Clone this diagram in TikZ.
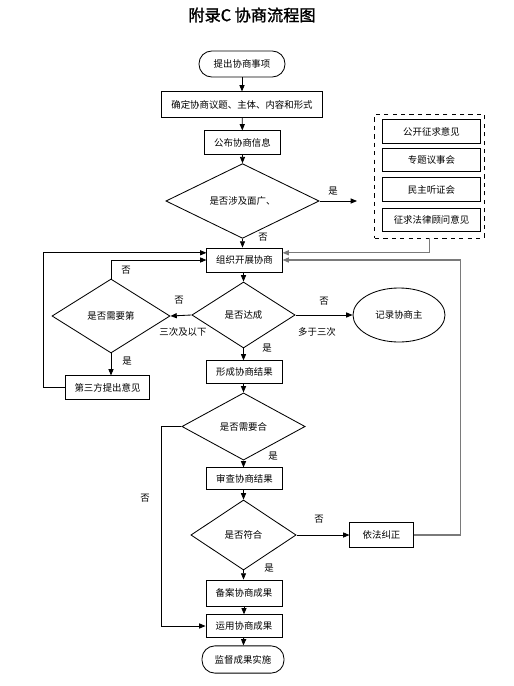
\documentclass[tikz,border=0pt]{standalone}
\usepackage{fontspec}
\newfontfamily\cjk{Noto Sans CJK SC}
\newfontfamily\cjktitulo[FakeBold=1.5]{Noto Sans CJK SC}
\usepackage{tikz}
\usetikzlibrary{positioning,arrows.meta,shapes.geometric}
\definecolor{lineagris}{HTML}{7A7A7A}

\tikzset{
  caja/.style={draw, line width=0.6pt, inner sep=1pt, font=\cjk\fontsize{6.7}{8}\selectfont},
  termino/.style={caja, rounded corners=0.32cm},
  decision/.style={caja, diamond, inner sep=0pt},
  etiqueta/.style={font=\cjk\fontsize{6.7}{8}\selectfont, inner sep=0pt},
  flecha/.style={line width=0.6pt, -{Triangle[length=4.5pt,width=3.6pt]}},
  linea/.style={line width=0.6pt}
}

\begin{document}
\begin{tikzpicture}[x=0.025cm, y=-0.025cm]
  \useasboundingbox (0,0) rectangle (514,686);

  % Titulo
  \node[font=\cjktitulo\fontsize{11.5}{13}\selectfont] (titulo) at (252,15) {附录C\ 协商流程图};

  % Columna principal
  \node[termino, minimum width=2.15cm, minimum height=0.65cm] (inicio) at (242,64) {提出协商事项};
  \node[caja, minimum width=4.03cm, minimum height=0.63cm] (definir) at (242,104.5) {确定协商议题、主体、内容和形式};
  \node[caja, minimum width=1.88cm, minimum height=0.58cm] (publicar) at (242.5,142.5) {公布协商信息};
  \node[decision, minimum width=3.83cm, minimum height=1.7cm] (amplio) at (242.5,201) {是否涉及面广、};
  \node[caja, minimum width=1.88cm, minimum height=0.6cm] (organizar) at (244.5,260) {组织开展协商};
  \node[decision, minimum width=2.58cm, minimum height=1.65cm] (alcanzado) at (243.5,315) {是否达成};
  \node[caja, minimum width=1.88cm, minimum height=0.56cm] (formar) at (244.5,372) {形成协商结果};
  \node[decision, minimum width=3.08cm, minimum height=1.68cm] (legal) at (243.5,426.5) {是否需要合};
  \node[caja, minimum width=1.88cm, minimum height=0.53cm] (revisar) at (244.5,478.5) {审查协商结果};
  \node[decision, minimum width=2.63cm, minimum height=1.75cm] (conforme) at (243.5,535) {是否符合};
  \node[caja, minimum width=1.9cm, minimum height=0.65cm] (archivar) at (244,593) {备案协商成果};
  \node[caja, minimum width=1.9cm, minimum height=0.56cm] (aplicar) at (244,626) {运用协商成果};
  \node[termino, minimum width=2.05cm, minimum height=0.68cm] (supervisar) at (243,659.5) {监督成果实施};

  % Formas de consulta
  \node[draw, dashed, line width=0.6pt, minimum width=2.73cm, minimum height=3.1cm] (opciones) at (429.5,176) {};
  \foreach \n/\t/\y in {op1/公开征求意见/131.5, op2/专题议事会/160, op3/民主听证会/189.5, op4/征求法律顾问意见/220}{
    \node[caja, minimum width=2.43cm, minimum height=0.58cm] (\n) at (431.5,\y) {\t};
  }

  % Rama izquierda y derecha
  \node[decision, minimum width=2.95cm, minimum height=1.85cm] (terceroq) at (111,316) {是否需要第};
  \node[caja, minimum width=2.08cm, minimum height=0.58cm] (tercero) at (107.5,387.5) {第三方提出意见};
  \node[caja, ellipse, minimum width=2.3cm, minimum height=1.35cm] (registro) at (399,315) {记录协商主};
  \node[caja, minimum width=1.58cm, minimum height=0.63cm] (corregir) at (381.5,535) {依法纠正};

  % Flechas principales
  \draw[flecha] (inicio) -- (definir);
  \draw[flecha] (definir) -- (publicar);
  \draw[flecha] (publicar) -- (amplio);
  \coordinate (finamplio) at (357,201);
  \draw[flecha] (amplio.east) -- (finamplio);
  \draw[flecha] (amplio.south) -- (organizar.north -| amplio.south);
  \draw[flecha] (organizar.south -| alcanzado.north) -- (alcanzado.north);
  \draw[flecha] (alcanzado.south) -- (formar.north -| alcanzado.south);
  \draw[flecha] (formar.south -| legal.north) -- (legal.north);
  \draw[flecha] (legal.south) -- (revisar.north -| legal.south);
  \draw[flecha] (revisar.south -| conforme.north) -- (conforme.north);
  \draw[flecha] (conforme.south) -- (archivar.north -| conforme.south);
  \draw[flecha] (archivar) -- (aplicar);
  \draw[flecha] (aplicar) -- (supervisar);

  % Retornos
  \draw[flecha] (alcanzado.west) -- (terceroq.east);
  \draw[flecha] (terceroq.south) -- (tercero.north -| terceroq.south);
  \draw[flecha] (terceroq.north) |- (organizar.west);
  \draw[flecha] (tercero.west) -- ++(-0.55cm,0) |- ([yshift=0.18cm]organizar.west);
  \draw[flecha] (alcanzado.east) -- (registro.west);
  \draw[flecha] (legal.west) -- ++(-0.5cm,0) |- (aplicar.west);
  \draw[flecha] (conforme.east) -- (corregir.west);
  \draw[flecha, lineagris, line width=0.8pt] (opciones.south) |- ([yshift=0.18cm]organizar.east);
  \draw[flecha, lineagris, line width=0.8pt] (corregir.east) -- ++(1.18cm,0) |- (organizar.east);

  % Etiquetas
  \node[etiqueta] (siamplio) at (333,191) {是};
  \node[etiqueta] (noamplio) at (263,237) {否};
  \node[etiqueta] (noterceroq) at (126,270) {否};
  \node[etiqueta] (noizq) at (179,300) {否};
  \node[etiqueta] (menos) at (183,332) {三次及以下};
  \node[etiqueta] (siterceroq) at (127,361) {是};
  \node[etiqueta] (noder) at (324,301) {否};
  \node[etiqueta] (mas) at (317,332) {多于三次};
  \node[etiqueta] (sialcanzado) at (267,348) {是};
  \node[etiqueta] (silegal) at (273,456) {是};
  \node[etiqueta] (nolegal) at (145,498) {否};
  \node[etiqueta] (noconforme) at (319,519) {否};
  \node[etiqueta] (siconforme) at (269,568) {是};
\end{tikzpicture}
\end{document}
